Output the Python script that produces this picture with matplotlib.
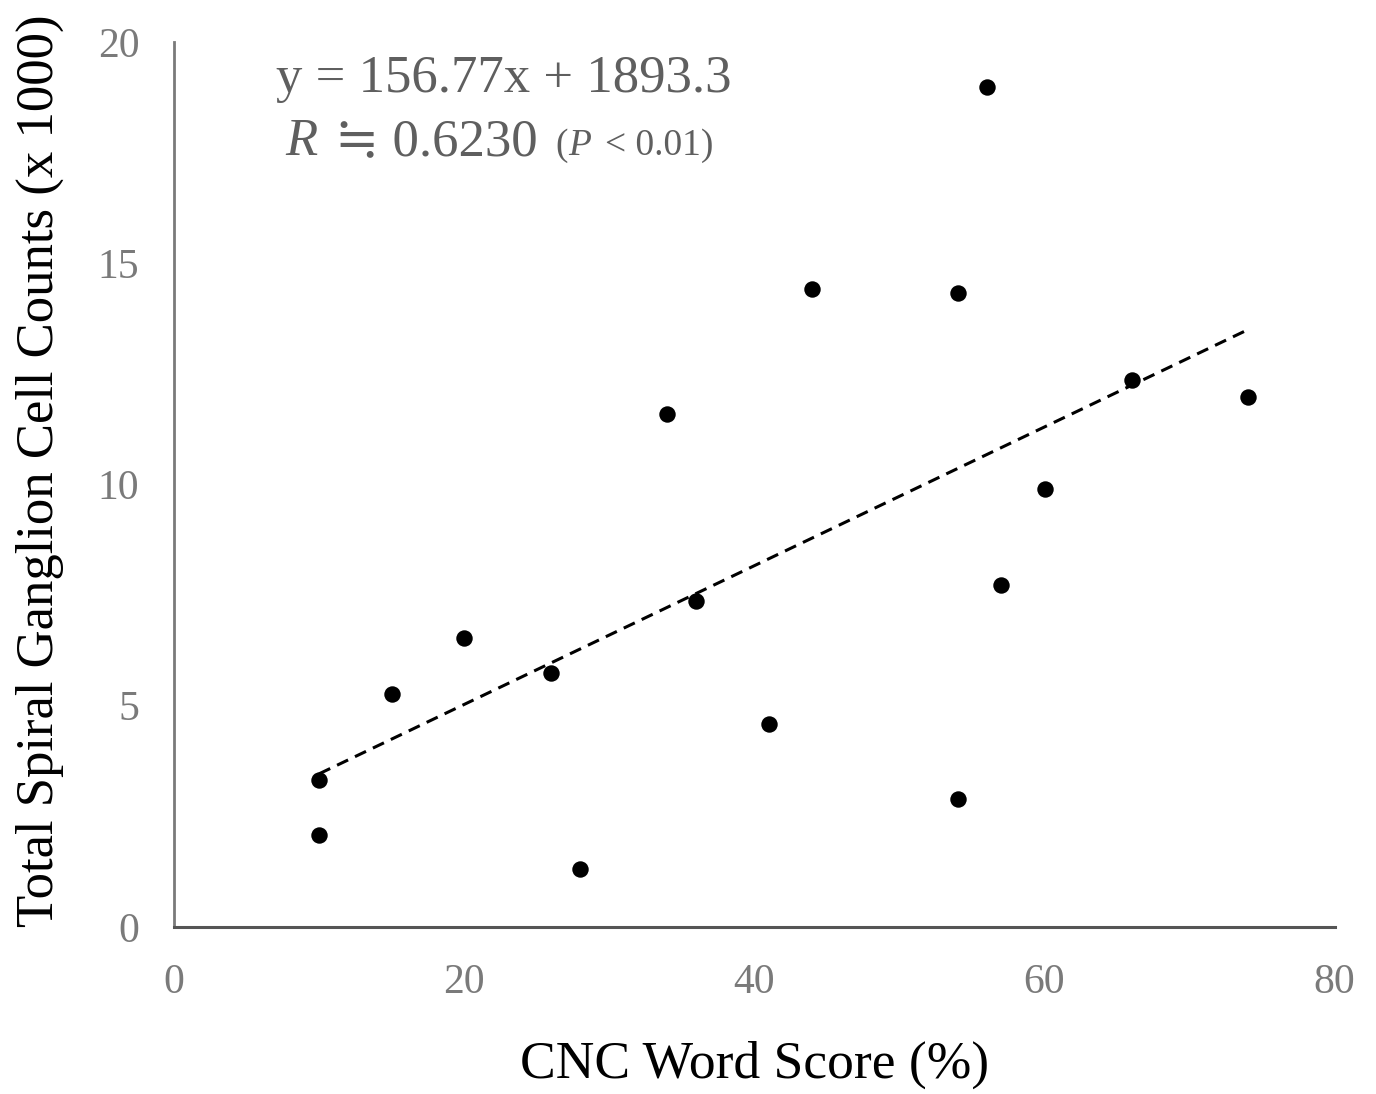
import matplotlib
matplotlib.use("Agg")
import matplotlib.pyplot as plt
import numpy as np

cnc_score = [10, 10, 15, 20, 26, 28, 34, 36, 41, 44, 54, 54, 56, 57, 60, 66, 74]
sgc_counts = [2.08, 3.32, 5.27, 6.53, 5.74, 1.31, 11.59, 7.37, 4.59, 14.42, 14.33, 2.89, 18.98, 7.73, 9.90, 12.36, 11.98]
slope = 156.77
intercept = 1893.3
x_ticks = [0, 20, 40, 60, 80]
y_ticks = [0, 5, 10, 15, 20]

serif = ['Liberation Serif', 'DejaVu Serif']
plt.rcParams['font.family'] = serif

fig = plt.figure(figsize=(13.76, 10.94), dpi=100)
ax = fig.add_axes([0.1265, 0.1527, 0.8435, 0.809])

ax.scatter(cnc_score, sgc_counts, s=140, color='black', zorder=3, linewidths=0)
xl = np.array([min(cnc_score), max(cnc_score)])
ax.plot(xl, (slope * xl + intercept) / 1000, color='black', linestyle=(0, (4, 2.5)), linewidth=2.2)

ax.set_xlim(0, 80)
ax.set_ylim(0, 20)
ax.set_xticks(x_ticks)
ax.set_yticks(y_ticks)
ax.tick_params(length=0, labelsize=30, labelcolor='#7a7a7a')
ax.tick_params(axis='x', pad=26)
ax.tick_params(axis='y', pad=25)
for s in ['top', 'right']:
    ax.spines[s].set_visible(False)
ax.spines['left'].set_color('#7a7a7a')
ax.spines['bottom'].set_color('#555555')
ax.spines['left'].set_linewidth(2)
ax.spines['bottom'].set_linewidth(2.2)

ax.set_xlabel('CNC Word Score (%)', fontsize=38.5, labelpad=28)
ax.set_ylabel('Total Spiral Ganglion Cell Counts (x 1000)', fontsize=38)
ax.yaxis.set_label_coords(-0.095, 0.515)

grey = '#5f5f5f'
ax.text(7.0, 18.87, 'y = 156.77x + 1893.3', fontsize=38, color=grey, va='baseline', ha='left')
ax.text(7.65, 17.45, 'R', fontsize=38, color=grey, style='italic', va='baseline', ha='left')
ax.text(11.1, 17.45, '≒ 0.6230', fontsize=38, color=grey, va='baseline', ha='left')
ax.text(26.3, 17.45, '(', fontsize=27, color=grey, va='baseline', ha='left')
ax.text(27.2, 17.45, 'P', fontsize=27, color=grey, style='italic', va='baseline', ha='left')
ax.text(29.7, 17.45, '< 0.01)', fontsize=27, color=grey, va='baseline', ha='left')

fig.savefig('out.png', dpi=100)
